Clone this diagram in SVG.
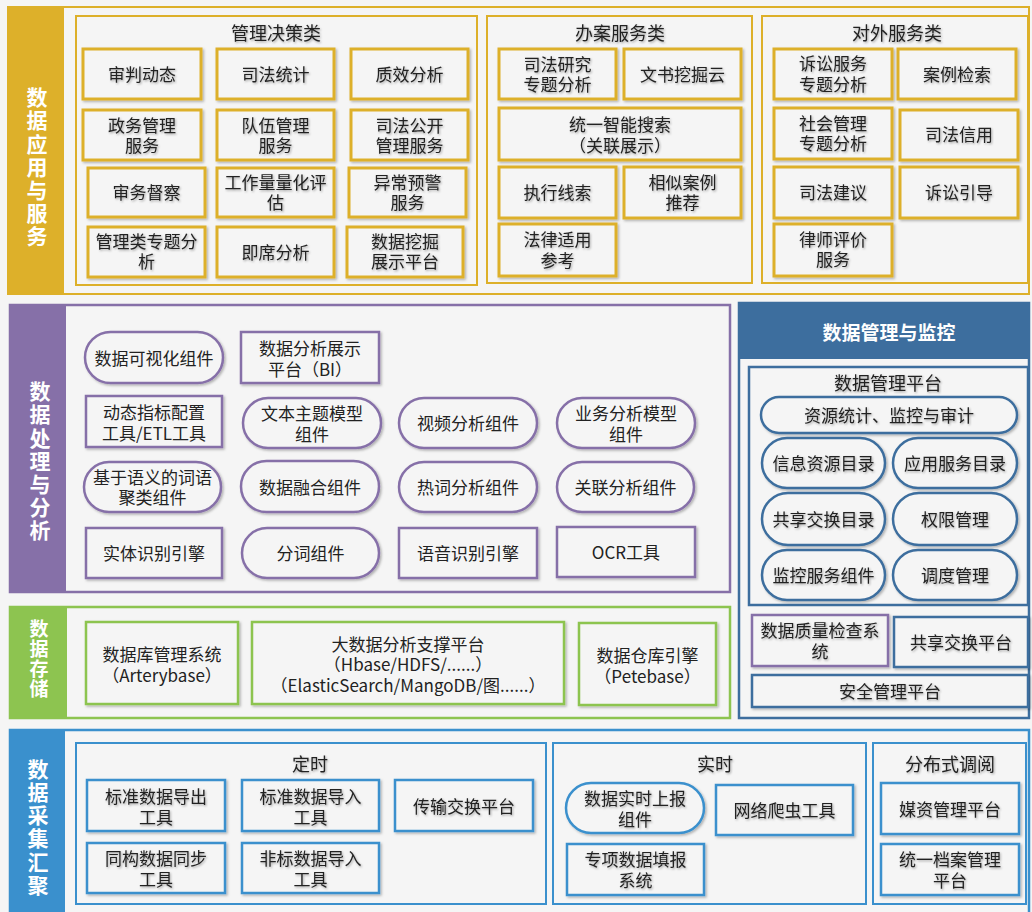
<svg xmlns="http://www.w3.org/2000/svg" width="1032" height="912" viewBox="0 0 1032 912">
<defs>
<filter id="sh" x="-10%" y="-10%" width="125%" height="130%"><feDropShadow dx="1.5" dy="1.5" stdDeviation="1" flood-color="#000" flood-opacity="0.28"/></filter>
<filter id="tsh" x="-10%" y="-20%" width="125%" height="150%"><feDropShadow dx="1" dy="1.2" stdDeviation="0.9" flood-color="#000" flood-opacity="0.35"/></filter>
<style>
text{font-family:"Noto Sans CJK SC","Microsoft YaHei",sans-serif;font-size:17px;fill:#222;text-anchor:middle;dominant-baseline:central}
.side{fill:#fff;font-size:21px;font-weight:bold;writing-mode:vertical-rl;letter-spacing:2.2px}
.ttl{font-size:18px}
.y rect{fill:#f5f5f5;stroke:#DDB02A;stroke-width:3;filter:url(#sh)}
.y text,.c text,.m text{filter:url(#tsh)}
.p rect{fill:#f5f5f5;stroke:#8670A8;stroke-width:2.5;filter:url(#sh)}
.g rect{fill:#f5f5f5;stroke:#8DC450;stroke-width:2.5;filter:url(#sh)}
.c rect{fill:#f5f5f5;stroke:#3A90CD;stroke-width:2.5;filter:url(#sh)}
.m rect{fill:#f5f5f5;stroke:#3D6E9E;stroke-width:2.5;filter:url(#sh)}
.mp rect{fill:#f5f5f5;stroke:#8670A8;stroke-width:2.5;filter:url(#sh)}
</style>
</defs>
<rect x="0" y="0" width="1032" height="912" fill="#f5f5f5"/>

<!-- Layer 1: 数据应用与服务 -->
<g id="layer-app">
<rect x="8" y="7" width="1021" height="287" fill="#f5f5f5" stroke="#DDB02A" stroke-width="2"/>
<rect x="8" y="7" width="56" height="287" fill="#DDB02A"/>
<text class="side" x="37" y="168">数据应用与服务</text>
<g id="grp-glj">
<rect x="76" y="16" width="401" height="269" fill="none" stroke="#DDB02A" stroke-width="2"/>
<text class="ttl" x="276" y="32" filter="url(#tsh)">管理决策类</text>
</g>
<g id="grp-ba">
<rect x="487" y="16" width="265" height="267" fill="none" stroke="#DDB02A" stroke-width="2"/>
<text class="ttl" x="620" y="32" filter="url(#tsh)">办案服务类</text>
</g>
<g id="grp-dw">
<rect x="762" y="16" width="266" height="267" fill="none" stroke="#DDB02A" stroke-width="2"/>
<text class="ttl" x="897" y="32" filter="url(#tsh)">对外服务类</text>
</g>
</g>

<g id="n-spdt" class="y"><rect x="83" y="49" width="118" height="50"/><text x="142" y="73">审判动态</text></g>
<g id="n-sftj" class="y"><rect x="217" y="49" width="117" height="50"/><text x="275.5" y="73">司法统计</text></g>
<g id="n-zxfx" class="y"><rect x="351" y="49" width="117" height="50"/><text x="409.5" y="73">质效分析</text></g>
<g id="n-zwgl" class="y"><rect x="83" y="110" width="118" height="50"/><text><tspan x="142" y="124">政务管理</tspan><tspan x="142" y="144">服务</tspan></text></g>
<g id="n-dwgl" class="y"><rect x="217" y="110" width="117" height="50"/><text><tspan x="275.5" y="124">队伍管理</tspan><tspan x="275.5" y="144">服务</tspan></text></g>
<g id="n-sfgk" class="y"><rect x="351" y="110" width="117" height="50"/><text><tspan x="409.5" y="124">司法公开</tspan><tspan x="409.5" y="144">管理服务</tspan></text></g>
<g id="n-swdc" class="y"><rect x="88" y="168" width="117" height="49"/><text x="146.5" y="191.5">审务督察</text></g>
<g id="n-gzl" class="y"><rect x="217" y="168" width="117" height="49"/><text><tspan x="275.5" y="181">工作量量化评</tspan><tspan x="275.5" y="201">估</tspan></text></g>
<g id="n-ycyj" class="y"><rect x="349" y="168" width="117" height="49"/><text><tspan x="407.5" y="181">异常预警</tspan><tspan x="407.5" y="201">服务</tspan></text></g>
<g id="n-gllzt" class="y"><rect x="88" y="227" width="117" height="50"/><text><tspan x="146.5" y="240">管理类专题分</tspan><tspan x="146.5" y="260">析</tspan></text></g>
<g id="n-jxfx" class="y"><rect x="217" y="227" width="117" height="50"/><text x="275.5" y="251">即席分析</text></g>
<g id="n-sjwj" class="y"><rect x="347" y="227" width="116" height="50"/><text><tspan x="405" y="240">数据挖掘</tspan><tspan x="405" y="260">展示平台</tspan></text></g>

<g id="n-sfyj" class="y"><rect x="499" y="49" width="117" height="50"/><text><tspan x="557.5" y="63">司法研究</tspan><tspan x="557.5" y="83">专题分析</tspan></text></g>
<g id="n-wswj" class="y"><rect x="624" y="49" width="117" height="50"/><text x="682.5" y="73">文书挖掘云</text></g>
<g id="n-tyzn" class="y"><rect x="499" y="108" width="242" height="52"/><text><tspan x="620" y="123">统一智能搜索</tspan><tspan x="620" y="144">（关联展示）</tspan></text></g>
<g id="n-zxxs" class="y"><rect x="499" y="167" width="117" height="51"/><text x="557.5" y="191.5">执行线索</text></g>
<g id="n-xsal" class="y"><rect x="624" y="167" width="117" height="51"/><text><tspan x="682.5" y="181">相似案例</tspan><tspan x="682.5" y="201">推荐</tspan></text></g>
<g id="n-flsy" class="y"><rect x="499" y="224" width="117" height="52"/><text><tspan x="557.5" y="238">法律适用</tspan><tspan x="557.5" y="259">参考</tspan></text></g>

<g id="n-ssfw" class="y"><rect x="774" y="49" width="118" height="50"/><text><tspan x="833" y="62">诉讼服务</tspan><tspan x="833" y="83">专题分析</tspan></text></g>
<g id="n-aljs" class="y"><rect x="898" y="49" width="118" height="50"/><text x="957" y="73">案例检索</text></g>
<g id="n-shgl" class="y"><rect x="774" y="108" width="118" height="51"/><text><tspan x="833" y="122">社会管理</tspan><tspan x="833" y="142">专题分析</tspan></text></g>
<g id="n-sfxy" class="y"><rect x="900" y="110" width="118" height="50"/><text x="959" y="133">司法信用</text></g>
<g id="n-sfjy" class="y"><rect x="774" y="167" width="118" height="51"/><text x="833" y="191">司法建议</text></g>
<g id="n-ssyd" class="y"><rect x="900" y="167" width="118" height="51"/><text x="959" y="191">诉讼引导</text></g>
<g id="n-lspj" class="y"><rect x="774" y="224" width="118" height="52"/><text><tspan x="833" y="238">律师评价</tspan><tspan x="833" y="258">服务</tspan></text></g>

<!-- Layer 2: 数据处理与分析 -->
<g id="layer-proc">
<rect x="10" y="305" width="720" height="287" fill="#f5f5f5" stroke="#8670A8" stroke-width="2.5"/>
<rect x="10" y="305" width="56" height="287" fill="#8670A8"/>
<text class="side" x="40" y="462">数据处理与分析</text>
</g>
<g id="n-sjksh" class="p"><rect x="85" y="332" width="138" height="51" rx="25.5"/><text x="154" y="357">数据可视化组件</text></g>
<g id="n-bi" class="p"><rect x="241" y="332" width="138" height="51"/><text><tspan x="310" y="347">数据分析展示</tspan><tspan x="310" y="368">平台（BI）</tspan></text></g>
<g id="n-etl" class="p"><rect x="86" y="396" width="136" height="51"/><text><tspan x="154" y="411">动态指标配置</tspan><tspan x="154" y="432">工具/ETL工具</tspan></text></g>
<g id="n-wbzt" class="p"><rect x="243" y="398" width="138" height="50" rx="25"/><text><tspan x="312" y="412">文本主题模型</tspan><tspan x="312" y="433">组件</tspan></text></g>
<g id="n-spfx" class="p"><rect x="399" y="398" width="138" height="50" rx="25"/><text x="468" y="422">视频分析组件</text></g>
<g id="n-ywfx" class="p"><rect x="557" y="398" width="138" height="50" rx="25"/><text><tspan x="626" y="412">业务分析模型</tspan><tspan x="626" y="433">组件</tspan></text></g>
<g id="n-jyyy" class="p"><rect x="84" y="462" width="137" height="50" rx="25"/><text><tspan x="152.5" y="476">基于语义的词语</tspan><tspan x="152.5" y="496">聚类组件</tspan></text></g>
<g id="n-sjrh" class="p"><rect x="241" y="461" width="138" height="51" rx="25.5"/><text x="310" y="486">数据融合组件</text></g>
<g id="n-rcfx" class="p"><rect x="399" y="462" width="138" height="50" rx="25"/><text x="468" y="486">热词分析组件</text></g>
<g id="n-glfx" class="p"><rect x="557" y="462" width="137" height="50" rx="25"/><text x="625.5" y="486">关联分析组件</text></g>
<g id="n-stsb" class="p"><rect x="86" y="528" width="136" height="50"/><text x="154" y="552">实体识别引擎</text></g>
<g id="n-fc" class="p"><rect x="242" y="528" width="137" height="50" rx="25"/><text x="310.5" y="552">分词组件</text></g>
<g id="n-yysb" class="p"><rect x="399" y="528" width="138" height="50"/><text x="468" y="552">语音识别引擎</text></g>
<g id="n-ocr" class="p"><rect x="557" y="527" width="138" height="50"/><text x="626" y="551">OCR工具</text></g>

<!-- 数据管理与监控 -->
<g id="layer-mgmt">
<rect x="739" y="303" width="290" height="415" fill="#f5f5f5" stroke="#3D6E9E" stroke-width="2.5"/>
<rect x="739" y="303" width="290" height="56" fill="#3D6E9E"/>
<text x="889" y="331" style="fill:#fff;font-size:19px;font-weight:bold">数据管理与监控</text>
<g id="grp-sjglpt">
<rect x="749" y="367" width="279" height="238" fill="none" stroke="#3D6E9E" stroke-width="2.5"/>
<text class="ttl" x="888" y="382" filter="url(#tsh)">数据管理平台</text>
</g>
</g>
<g id="n-zytj" class="m"><rect x="761" y="397" width="256" height="36" rx="18"/><text x="889" y="414.5">资源统计、监控与审计</text></g>
<g id="n-xxzy" class="m"><rect x="762" y="438" width="123" height="50" rx="25"/><text x="823.5" y="462">信息资源目录</text></g>
<g id="n-yyfw" class="m"><rect x="893" y="438" width="124" height="50" rx="25"/><text x="955" y="462">应用服务目录</text></g>
<g id="n-gxjhml" class="m"><rect x="762" y="493" width="123" height="52" rx="26"/><text x="823.5" y="518">共享交换目录</text></g>
<g id="n-qxgl" class="m"><rect x="893" y="493" width="124" height="52" rx="26"/><text x="955" y="518">权限管理</text></g>
<g id="n-jkfw" class="m"><rect x="762" y="550" width="123" height="50" rx="25"/><text x="823.5" y="574">监控服务组件</text></g>
<g id="n-ddgl" class="m"><rect x="893" y="550" width="124" height="50" rx="25"/><text x="955" y="574">调度管理</text></g>
<g id="n-sjzl" class="mp"><rect x="752" y="615" width="136" height="51"/><text style="filter:url(#tsh)"><tspan x="820" y="629">数据质量检查系</tspan><tspan x="820" y="650">统</tspan></text></g>
<g id="n-gxjhpt" class="m"><rect x="894" y="617" width="134" height="50"/><text x="961" y="641">共享交换平台</text></g>
<g id="n-aqgl" class="m"><rect x="752" y="675" width="276" height="32"/><text x="890" y="690.5">安全管理平台</text></g>

<!-- Layer 3: 数据存储 -->
<g id="layer-store">
<rect x="10" y="607" width="720" height="111" fill="#f5f5f5" stroke="#8DC450" stroke-width="2.5"/>
<rect x="10" y="607" width="57" height="111" fill="#8DC450"/>
<text class="side" x="39" y="659" style="font-size:19px;letter-spacing:1px">数据存储</text>
</g>
<g id="n-sjkgl" class="g"><rect x="86" y="622" width="152" height="82"/><text><tspan x="162" y="653">数据库管理系统</tspan><tspan x="162" y="674">（Arterybase）</tspan></text></g>
<g id="n-dsj" class="g"><rect x="252" y="622" width="312" height="82"/><text><tspan x="408" y="643">大数据分析支撑平台</tspan><tspan x="408" y="663">（Hbase/HDFS/......）</tspan><tspan x="408" y="684">（ElasticSearch/MangoDB/图......）</tspan></text></g>
<g id="n-sjck" class="g"><rect x="579" y="623" width="137" height="82"/><text><tspan x="647.5" y="654">数据仓库引擎</tspan><tspan x="647.5" y="675">（Petebase）</tspan></text></g>

<!-- Layer 4: 数据采集汇聚 -->
<g id="layer-collect">
<rect x="10" y="730" width="1019" height="190" fill="#f5f5f5" stroke="#3A90CD" stroke-width="2.5"/>
<rect x="10" y="730" width="55" height="190" fill="#3A90CD"/>
<text class="side" x="38" y="828">数据采集汇聚</text>
<g id="grp-ds">
<rect x="76" y="743" width="470" height="161" fill="none" stroke="#3A90CD" stroke-width="2"/>
<text class="ttl" x="310" y="763" filter="url(#tsh)">定时</text>
</g>
<g id="grp-ss">
<rect x="553" y="743" width="313" height="161" fill="none" stroke="#3A90CD" stroke-width="2"/>
<text class="ttl" x="715" y="763" filter="url(#tsh)">实时</text>
</g>
<g id="grp-fbs">
<rect x="873" y="743" width="153" height="161" fill="none" stroke="#3A90CD" stroke-width="2"/>
<text class="ttl" x="950" y="763" filter="url(#tsh)">分布式调阅</text>
</g>
</g>
<g id="n-bzdc" class="c"><rect x="87" y="780" width="138" height="51"/><text><tspan x="156" y="795">标准数据导出</tspan><tspan x="156" y="816">工具</tspan></text></g>
<g id="n-bzdr" class="c"><rect x="242" y="780" width="137" height="51"/><text><tspan x="310.5" y="795">标准数据导入</tspan><tspan x="310.5" y="816">工具</tspan></text></g>
<g id="n-csjh" class="c"><rect x="395" y="780" width="138" height="51"/><text x="464" y="805">传输交换平台</text></g>
<g id="n-tgsj" class="c"><rect x="87" y="843" width="138" height="50"/><text><tspan x="156" y="857">同构数据同步</tspan><tspan x="156" y="878">工具</tspan></text></g>
<g id="n-fbdr" class="c"><rect x="242" y="843" width="137" height="50"/><text><tspan x="310.5" y="857">非标数据导入</tspan><tspan x="310.5" y="878">工具</tspan></text></g>
<g id="n-sssb" class="c"><rect x="566" y="783" width="138" height="50" rx="25"/><text><tspan x="635" y="797">数据实时上报</tspan><tspan x="635" y="818">组件</tspan></text></g>
<g id="n-wlpc" class="c"><rect x="716" y="785" width="137" height="50"/><text x="784.5" y="809">网络爬虫工具</text></g>
<g id="n-zxtb" class="c"><rect x="567" y="844" width="137" height="51"/><text><tspan x="635.5" y="858">专项数据填报</tspan><tspan x="635.5" y="879">系统</tspan></text></g>
<g id="n-mzgl" class="c"><rect x="881" y="783" width="138" height="51"/><text x="950" y="808">媒资管理平台</text></g>
<g id="n-tyda" class="c"><rect x="881" y="844" width="138" height="51"/><text><tspan x="950" y="858">统一档案管理</tspan><tspan x="950" y="879">平台</tspan></text></g>

<g id="connectors"/>
</svg>
